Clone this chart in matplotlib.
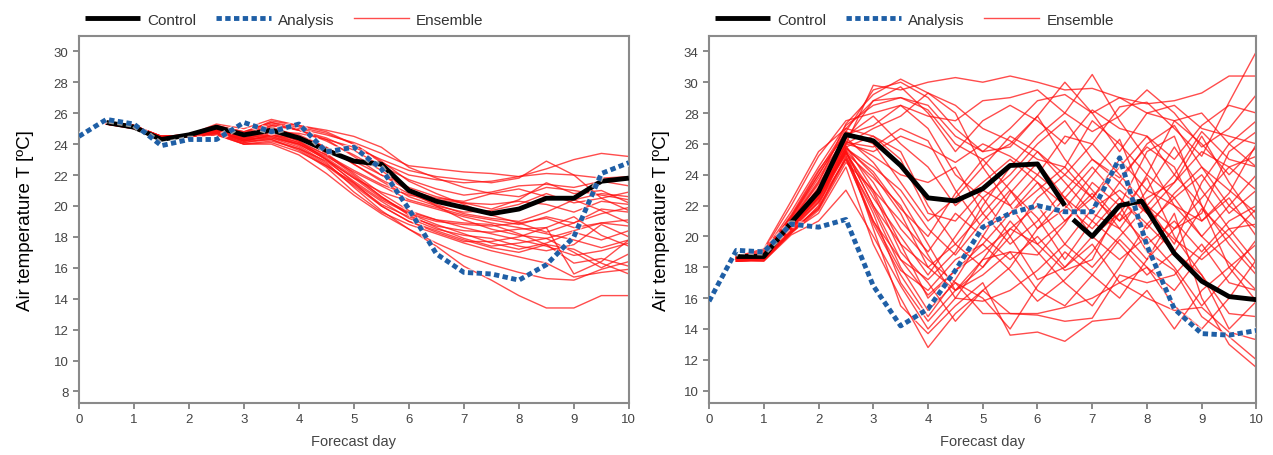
import numpy as np
import matplotlib
matplotlib.use("Agg")
import matplotlib.pyplot as plt
import matplotlib.patheffects as pe

plt.rcParams['font.family'] = ['Liberation Sans', 'DejaVu Sans']

# forecast days (0.5 day step)
days = [0.0, 0.5, 1.0, 1.5, 2.0, 2.5, 3.0, 3.5, 4.0, 4.5, 5.0,
        5.5, 6.0, 6.5, 7.0, 7.5, 8.0, 8.5, 9.0, 9.5, 10.0]
ens_days = days[1:]

# ---------------- left panel ----------------
left_analysis = [24.5, 25.6, 25.3, 23.9, 24.3, 24.3, 25.4, 24.8, 25.3, 23.5, 23.8,
                 22.4, 19.8, 16.9, 15.7, 15.6, 15.2, 16.2, 18.0, 22.1, 22.8]
left_control_days = days[1:]
left_control = [25.4, 25.1, 24.3, 24.6, 25.1, 24.6, 24.9, 24.4, 23.6, 22.9,
                22.7, 21.0, 20.3, 19.9, 19.5, 19.8, 20.5, 20.5, 21.6, 21.8]

left_ensemble = [
    [25.4, 25.2, 24.5, 24.6, 25.0, 24.6, 25.2, 25.0, 24.6, 24.1, 23.4, 22.6, 22.4, 22.2, 22.1, 21.9, 22.4, 23.0, 23.4, 23.2],
    [25.3, 25.1, 24.4, 24.5, 24.8, 24.3, 24.8, 24.7, 24.3, 23.8, 23.0, 22.3, 21.9, 21.7, 21.5, 21.8, 22.9, 22.0, 21.8, 21.9],
    [25.4, 25.2, 24.4, 24.6, 25.3, 25.0, 25.6, 25.2, 24.9, 24.5, 23.8, 22.5, 21.8, 21.2, 20.8, 20.6, 21.2, 21.0, 20.7, 20.4],
    [25.3, 25.1, 24.5, 24.5, 24.9, 24.2, 24.6, 24.3, 23.7, 22.9, 22.0, 21.2, 20.6, 20.2, 19.8, 20.4, 21.5, 20.8, 21.0, 20.2],
    [25.4, 25.2, 24.3, 24.6, 25.1, 24.6, 25.1, 24.5, 23.8, 22.7, 21.7, 20.8, 20.1, 19.5, 19.2, 19.0, 19.6, 20.4, 20.8, 20.6],
    [25.3, 25.0, 24.4, 24.5, 24.7, 24.1, 24.4, 24.0, 23.2, 22.2, 21.3, 20.4, 19.9, 19.4, 19.1, 18.8, 19.3, 18.9, 19.5, 19.9],
    [25.4, 25.2, 24.5, 24.6, 25.2, 24.8, 25.4, 25.1, 24.7, 24.0, 22.9, 21.6, 20.8, 20.1, 19.4, 18.9, 18.3, 18.9, 19.8, 19.6],
    [25.3, 25.1, 24.4, 24.5, 24.6, 24.0, 24.2, 23.7, 22.9, 21.6, 20.4, 19.5, 19.0, 18.8, 18.7, 18.9, 19.2, 18.6, 18.9, 18.7],
    [25.4, 25.1, 24.4, 24.6, 24.8, 24.3, 24.5, 24.0, 23.0, 21.8, 20.9, 20.3, 19.8, 19.3, 18.9, 18.6, 18.2, 17.8, 17.3, 17.8],
    [25.3, 25.1, 24.5, 24.5, 24.9, 24.5, 25.0, 24.4, 23.4, 22.1, 20.8, 19.7, 19.1, 18.6, 18.2, 17.8, 17.4, 16.8, 17.1, 17.6],
    [25.4, 25.2, 24.4, 24.6, 25.0, 24.4, 24.9, 24.2, 23.0, 21.5, 20.0, 19.0, 18.4, 17.8, 17.3, 17.0, 17.5, 16.3, 16.6, 16.1],
    [25.3, 25.0, 24.3, 24.5, 24.7, 24.1, 24.3, 23.6, 22.5, 20.9, 19.6, 18.8, 18.2, 17.6, 17.1, 16.7, 16.3, 15.4, 15.7, 15.9],
    [25.4, 25.2, 24.5, 24.6, 25.1, 24.7, 25.3, 24.9, 24.2, 23.3, 22.3, 21.0, 20.0, 19.1, 18.5, 18.1, 17.9, 17.0, 16.0, 16.9],
    [25.3, 25.1, 24.4, 24.5, 24.8, 24.2, 24.5, 23.9, 22.8, 21.2, 19.7, 18.5, 17.6, 16.8, 16.2, 15.7, 15.3, 15.2, 15.9, 16.4],
    [25.4, 25.1, 24.4, 24.6, 24.9, 24.3, 24.7, 24.1, 23.1, 21.9, 20.6, 19.4, 18.6, 17.9, 17.4, 17.6, 17.9, 18.4, 18.9, 19.1],
    [25.3, 25.1, 24.5, 24.5, 24.7, 24.0, 24.1, 23.5, 22.6, 21.3, 20.0, 19.0, 18.3, 17.7, 17.7, 18.0, 18.6, 19.3, 18.1, 17.4],
    [25.4, 25.2, 24.4, 24.6, 25.0, 24.5, 25.0, 24.6, 23.8, 22.7, 21.6, 20.6, 20.0, 19.6, 19.7, 20.1, 20.8, 20.2, 20.5, 20.9],
    [25.3, 25.1, 24.4, 24.5, 24.8, 24.4, 24.8, 24.2, 23.3, 22.3, 21.4, 20.7, 20.4, 20.2, 20.1, 20.3, 20.1, 19.6, 20.3, 20.1],
    [25.4, 25.2, 24.5, 24.6, 25.1, 24.6, 25.2, 24.9, 24.4, 23.6, 22.6, 21.7, 21.1, 20.7, 20.9, 21.3, 21.4, 21.2, 21.6, 21.3],
    [25.3, 25.1, 24.4, 24.5, 24.8, 24.2, 24.6, 24.1, 23.3, 22.0, 20.6, 19.5, 18.8, 18.2, 17.6, 17.2, 17.6, 18.3, 17.8, 18.4],
    [25.3, 25.0, 24.4, 24.5, 24.6, 24.0, 24.0, 23.3, 22.1, 20.7, 19.5, 18.5, 17.4, 16.1, 15.2, 14.2, 13.4, 13.4, 14.2, 14.2],
    [25.4, 25.1, 24.4, 24.6, 24.9, 24.4, 24.6, 24.0, 23.0, 21.8, 20.5, 19.6, 19.1, 18.9, 18.8, 18.2, 17.5, 17.2, 16.3, 15.6],
    [25.3, 25.1, 24.5, 24.5, 24.8, 24.3, 24.4, 23.8, 22.7, 21.4, 20.1, 19.3, 18.7, 18.4, 18.3, 18.5, 18.6, 15.6, 16.4, 17.8],
    [25.4, 25.2, 24.4, 24.6, 25.2, 24.8, 25.4, 24.9, 24.3, 23.2, 22.0, 21.0, 20.5, 20.3, 20.8, 21.1, 20.6, 20.4, 19.7, 18.9],
    [25.3, 25.1, 24.4, 24.5, 24.7, 24.2, 24.3, 23.7, 22.6, 21.5, 20.3, 19.2, 18.5, 18.1, 17.9, 17.4, 17.1, 17.5, 18.8, 18.0],
    [25.4, 25.2, 24.5, 24.6, 25.1, 24.7, 25.5, 25.2, 24.8, 24.0, 22.8, 22.0, 21.7, 21.5, 21.6, 21.9, 22.1, 22.0, 20.5, 19.7],
]

# ---------------- right panel ----------------
right_analysis = [15.8, 19.1, 19.0, 20.8, 20.6, 21.1, 16.8, 14.2, 15.3, 17.8, 20.6,
                  21.5, 22.0, 21.6, 21.6, 25.1, 19.4, 15.3, 13.7, 13.6, 13.9]
right_control_days = [0.5, 1.0, 1.5, 2.0, 2.5, 3.0, 3.5, 4.0, 4.5, 5.0, 5.5, 6.0, 6.5,
                      6.55, 6.65, 7.0, 7.5, 7.9, 8.5, 9.0, 9.5, 10.0]
right_control = [18.7, 18.7, 20.9, 22.9, 26.6, 26.2, 24.6, 22.5, 22.3, 23.1, 24.6, 24.7, 22.0,
                 np.nan, 21.1, 20.0, 22.0, 22.3, 18.9, 17.1, 16.1, 15.9]

right_ensemble = [
    [18.6, 18.8, 21.0, 23.5, 27.3, 29.2, 30.2, 29.3, 28.5, 27.0, 26.2, 25.0, 24.5, 27.5, 26.0, 24.0, 22.5, 24.0, 21.5, 23.0],
    [18.5, 18.7, 20.5, 22.5, 26.0, 29.8, 29.5, 30.0, 30.3, 30.0, 30.4, 30.0, 29.5, 29.6, 29.0, 28.6, 28.8, 29.3, 30.4, 30.4],
    [18.4, 18.6, 20.8, 23.2, 26.3, 28.8, 29.0, 28.2, 26.0, 25.0, 23.0, 21.2, 18.5, 21.0, 23.5, 26.0, 27.2, 24.5, 22.0, 20.5],
    [18.7, 18.9, 21.3, 24.2, 27.0, 26.5, 25.5, 22.0, 19.5, 18.0, 20.0, 22.5, 24.0, 26.0, 28.4, 28.7, 27.0, 25.2, 28.7, 32.0],
    [18.5, 18.4, 20.2, 22.0, 25.8, 24.0, 21.5, 18.0, 16.5, 17.5, 19.0, 16.5, 15.5, 17.5, 19.8, 18.0, 16.5, 18.8, 20.5, 20.8],
    [18.6, 18.7, 20.6, 22.8, 25.5, 22.0, 18.5, 17.2, 19.0, 22.0, 24.5, 26.5, 28.0, 30.5, 27.5, 25.0, 22.0, 21.0, 22.5, 20.0],
    [18.4, 18.5, 20.4, 21.8, 25.2, 21.5, 17.0, 14.5, 16.5, 18.5, 19.0, 18.8, 20.8, 23.5, 22.0, 19.0, 17.8, 14.8, 13.5, 12.0],
    [18.5, 18.6, 20.7, 22.5, 25.6, 20.5, 15.5, 13.7, 15.5, 17.0, 13.6, 13.8, 13.2, 14.5, 14.7, 16.5, 14.0, 16.5, 18.0, 15.8],
    [18.6, 18.8, 20.9, 23.0, 25.9, 23.0, 19.5, 16.0, 17.8, 19.5, 21.5, 23.0, 24.5, 22.5, 21.0, 24.0, 27.5, 28.0, 26.0, 24.5],
    [18.4, 18.5, 20.3, 21.5, 24.5, 19.5, 16.0, 12.8, 15.0, 16.5, 15.0, 15.0, 15.4, 16.0, 17.0, 16.0, 15.2, 15.4, 13.8, 13.3],
    [18.5, 18.7, 20.8, 23.0, 26.0, 27.0, 27.8, 29.3, 28.0, 24.5, 22.0, 19.5, 17.8, 18.5, 22.0, 25.5, 26.5, 22.0, 18.0, 19.5],
    [18.7, 19.0, 21.6, 24.5, 27.2, 28.5, 29.0, 28.5, 26.5, 25.5, 27.0, 28.8, 29.2, 28.0, 29.0, 28.0, 27.5, 26.0, 24.0, 25.8],
    [18.5, 18.6, 20.5, 22.3, 25.5, 22.5, 20.0, 17.5, 20.0, 22.5, 20.0, 17.2, 18.0, 20.0, 21.5, 23.8, 20.0, 17.5, 14.0, 15.8],
    [18.6, 18.7, 20.9, 22.9, 25.7, 24.5, 23.0, 20.5, 18.8, 21.0, 23.0, 20.5, 21.8, 24.0, 26.3, 22.0, 19.5, 23.5, 26.0, 27.5],
    [18.4, 18.4, 20.1, 21.0, 23.0, 20.0, 16.8, 14.0, 16.0, 18.5, 21.0, 19.0, 17.0, 15.5, 18.0, 20.8, 22.5, 20.0, 18.3, 16.5],
    [18.5, 18.7, 20.6, 22.6, 25.3, 21.0, 17.8, 16.5, 18.5, 19.5, 17.8, 15.8, 17.2, 19.0, 21.5, 19.5, 21.0, 19.0, 21.0, 22.0],
    [18.6, 18.8, 21.0, 23.4, 26.2, 25.2, 24.0, 23.5, 24.5, 21.5, 19.5, 21.0, 23.0, 25.0, 23.5, 21.5, 23.5, 25.5, 24.5, 23.0],
    [18.5, 18.5, 20.4, 22.2, 25.0, 21.8, 18.0, 15.2, 17.0, 16.0, 14.0, 16.8, 19.0, 17.5, 16.0, 18.5, 21.5, 16.0, 13.0, 11.5],
    [18.7, 19.1, 22.0, 25.2, 27.5, 28.0, 28.5, 27.0, 24.0, 22.5, 24.0, 26.0, 27.5, 25.0, 23.8, 25.8, 24.5, 21.0, 22.8, 26.0],
    [18.6, 18.9, 21.2, 23.8, 26.5, 27.8, 26.0, 24.5, 22.0, 23.5, 25.0, 23.5, 22.0, 20.5, 22.5, 20.5, 22.8, 24.5, 23.0, 21.5],
    [18.5, 18.6, 20.7, 22.6, 25.8, 26.5, 25.0, 21.5, 21.0, 23.0, 22.0, 24.0, 26.5, 26.0, 24.0, 22.0, 20.5, 21.5, 25.5, 26.8],
    [18.4, 18.5, 20.2, 21.7, 24.8, 23.0, 21.0, 19.0, 21.5, 20.0, 18.5, 20.0, 18.0, 19.5, 17.0, 18.0, 15.5, 14.0, 16.0, 18.5],
    [18.6, 18.8, 21.1, 23.6, 26.4, 24.8, 22.5, 19.5, 16.5, 18.0, 20.5, 22.0, 19.5, 18.0, 20.0, 22.0, 24.0, 26.8, 25.0, 24.5],
    [18.5, 18.6, 20.6, 22.7, 25.4, 22.8, 19.0, 17.0, 14.5, 16.5, 18.0, 20.5, 22.5, 21.0, 19.5, 17.5, 19.0, 21.8, 20.0, 17.8],
    [18.7, 19.2, 22.3, 25.5, 27.0, 28.8, 29.7, 28.0, 25.5, 27.5, 28.5, 27.5, 26.0, 28.2, 27.0, 26.5, 25.0, 27.2, 28.5, 28.0],
    [18.6, 18.8, 21.0, 23.1, 26.1, 25.8, 27.0, 26.2, 23.0, 20.5, 21.5, 23.5, 21.0, 22.5, 25.0, 23.0, 25.8, 23.0, 20.5, 18.3],
    [18.5, 18.7, 20.6, 22.4, 25.6, 23.5, 20.5, 18.5, 17.0, 15.0, 15.0, 14.9, 14.5, 14.7, 17.5, 17.0, 17.5, 19.5, 17.0, 16.5],
    [18.6, 18.9, 21.3, 24.0, 26.8, 26.0, 23.5, 21.0, 22.5, 24.5, 26.5, 25.5, 23.5, 21.5, 20.5, 23.0, 22.0, 20.0, 22.0, 24.0],
    [18.5, 18.5, 20.3, 21.9, 25.1, 20.8, 17.5, 14.8, 17.2, 20.0, 22.8, 24.8, 22.5, 20.0, 18.5, 20.0, 18.0, 15.5, 17.5, 19.8],
    [18.6, 18.7, 20.8, 22.8, 25.7, 24.2, 21.8, 20.0, 22.8, 25.0, 26.0, 27.8, 25.0, 23.0, 21.0, 22.5, 23.5, 26.5, 23.5, 21.0],
    [18.6, 18.8, 21.2, 24.0, 26.8, 29.5, 30.0, 29.0, 27.0, 25.5, 25.8, 27.8, 30.0, 28.0, 25.5, 28.0, 28.5, 27.0, 26.5, 26.0],
    [18.5, 18.6, 20.6, 22.5, 25.5, 22.0, 19.5, 18.0, 19.5, 21.5, 23.5, 25.5, 24.0, 22.5, 24.5, 26.5, 24.0, 22.0, 19.5, 17.5],
    [18.4, 18.5, 20.3, 21.8, 25.0, 21.0, 18.5, 16.2, 17.8, 19.0, 20.5, 19.5, 21.0, 22.8, 20.5, 18.5, 20.5, 22.5, 24.5, 25.2],
    [18.6, 18.7, 20.9, 23.0, 26.0, 25.5, 26.5, 25.8, 24.8, 26.0, 25.2, 24.0, 22.5, 24.5, 22.5, 20.8, 19.0, 17.5, 15.0, 14.8],
    [18.5, 18.6, 20.5, 22.2, 25.4, 23.8, 22.0, 18.8, 16.0, 15.8, 16.5, 17.8, 19.5, 21.8, 23.0, 21.5, 19.8, 18.5, 20.0, 21.8],
    [18.7, 18.9, 21.4, 24.3, 26.6, 27.2, 28.5, 27.8, 27.5, 28.8, 29.0, 29.5, 28.0, 26.8, 27.8, 29.5, 28.0, 25.8, 27.0, 29.2],
]

left_yticks = [8, 10, 12, 14, 16, 18, 20, 22, 24, 26, 28, 30]
right_yticks = [10, 12, 14, 16, 18, 20, 22, 24, 26, 28, 30, 32]
right_yticklabels = ['10', '12', '14', '16', '18', '20', '22', '24', '26', '28', '30', '34']
xticks = [0, 1, 2, 3, 4, 5, 6, 7, 8, 9, 10]

RED = '#ff1010'
BLUE = '#1f5fa6'


def draw_panel(ax, ens, ctrl_x, ctrl, analysis, ylim, yticks, yticklabels, ylabelpad):
    for i, m in enumerate(ens):
        ax.plot(ens_days, m, color=RED, lw=1.0, alpha=0.75,
                label='Ensemble' if i == 0 else None, zorder=2)
    ax.plot(ctrl_x, ctrl, color='black', lw=3.5, label='Control', zorder=3,
            solid_capstyle='butt')
    ax.plot(days, analysis, color=BLUE, lw=3.5, ls=(0, (1.1, 0.7)), label='Analysis',
            zorder=4, path_effects=[pe.Stroke(linewidth=5.5, foreground='white', alpha=0.6),
                                    pe.Normal()])
    ax.set_xlim(0, 10)
    ax.set_ylim(*ylim)
    ax.set_xticks(xticks)
    ax.set_yticks(yticks)
    ax.set_yticklabels(yticklabels)
    ax.tick_params(direction='out', length=4, width=1.2, color='#777777',
                   labelcolor='#444444', labelsize=9.5)
    for s in ax.spines.values():
        s.set_color('#8a8a8a')
        s.set_linewidth(1.5)
    ax.set_xlabel('Forecast day', color='#444444', fontsize=10.5, labelpad=6)
    ax.set_ylabel('Air temperature T [ºC]', fontsize=13.5, labelpad=ylabelpad)
    h, l = ax.get_legend_handles_labels()
    order = [l.index('Control'), l.index('Analysis'), l.index('Ensemble')]
    leg = ax.legend([h[k] for k in order], [l[k] for k in order], loc='lower left',
                    bbox_to_anchor=(-0.005, 1.0), ncol=3, frameon=False, fontsize=11,
                    handlelength=3.6, columnspacing=1.3, handletextpad=0.45,
                    borderaxespad=0.2)
    for t in leg.get_texts():
        t.set_color('#333333')


fig = plt.figure(figsize=(12.73, 4.56), dpi=100)
ax1 = fig.add_axes([0.062, 0.114, 0.432, 0.805])
ax2 = fig.add_axes([0.557, 0.114, 0.430, 0.805])

draw_panel(ax1, left_ensemble, left_control_days, left_control, left_analysis,
           (7.25, 31.0), left_yticks, [str(t) for t in left_yticks], 14)
draw_panel(ax2, right_ensemble, right_control_days, right_control, right_analysis,
           (9.2, 33.0), right_yticks, right_yticklabels, 10)

fig.savefig('out.png', dpi=100)
